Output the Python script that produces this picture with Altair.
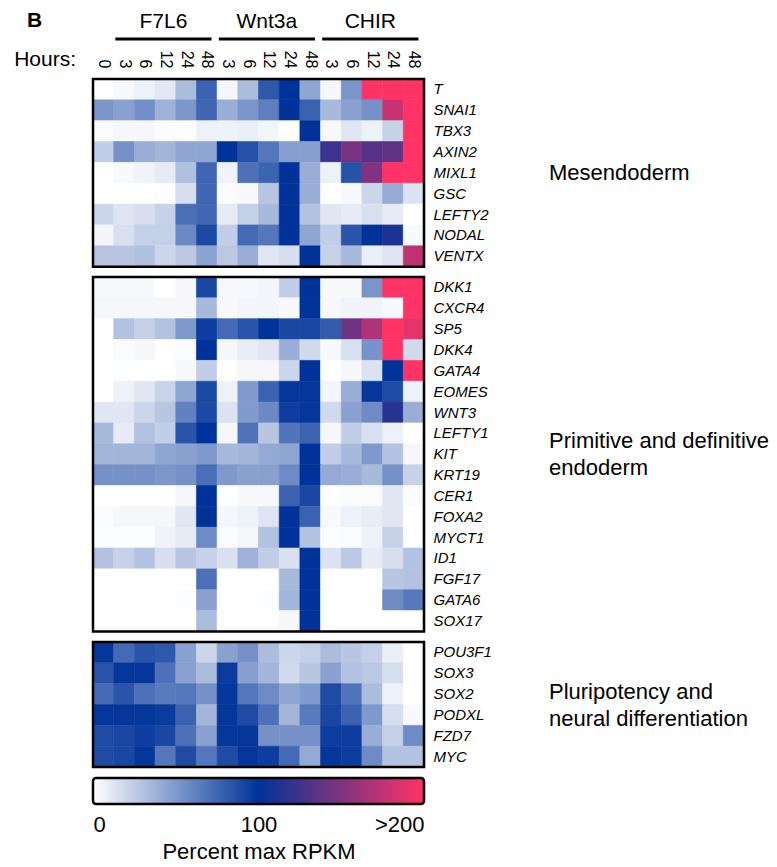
import altair as alt
import pandas as pd

# ---------------- data ----------------
conditions = ["F7L6"] * 6 + ["Wnt3a"] * 5 + ["CHIR"] * 5
hours = ["0", "3", "6", "12", "24", "48", "3", "6", "12", "24", "48", "3", "6", "12", "24", "48"]

group_names = ["F7L6", "Wnt3a", "CHIR"]
group_first_col = [1, 6, 11]
group_last_col = [6, 11, 16]

mesendoderm_genes = ["T", "SNAI1", "TBX3", "AXIN2", "MIXL1", "GSC", "LEFTY2", "NODAL", "VENTX"]
mesendoderm_values = [
    [0, 3, 7, 11, 33, 77, 4, 33, 82, 100, 44, 4, 52, 200, 200, 200],
    [52, 46, 55, 38, 51, 75, 40, 52, 63, 100, 77, 34, 46, 54, 178, 200],
    [2, 4, 4, 2, 1, 7, 7, 8, 5, 0, 100, 3, 12, 7, 22, 200],
    [24, 54, 40, 36, 44, 44, 100, 85, 67, 47, 47, 123, 148, 134, 138, 200],
    [0, 3, 6, 10, 31, 75, 6, 70, 76, 100, 40, 7, 85, 150, 200, 200],
    [0, 0, 0, 1, 16, 75, 2, 3, 28, 100, 40, 0, 3, 20, 41, 14],
    [20, 13, 16, 22, 71, 74, 10, 23, 34, 100, 30, 12, 10, 15, 10, 0],
    [5, 15, 23, 23, 58, 89, 24, 73, 67, 100, 44, 24, 84, 100, 111, 3],
    [28, 28, 31, 20, 27, 45, 27, 40, 12, 16, 100, 22, 34, 8, 13, 175],
]

endoderm_genes = ["DKK1", "CXCR4", "SP5", "DKK4", "GATA4", "EOMES", "WNT3", "LEFTY1", "KIT",
                  "KRT19", "CER1", "FOXA2", "MYCT1", "ID1", "FGF17", "GATA6", "SOX17"]
endoderm_values = [
    [3, 3, 3, 0, 4, 90, 3, 3, 5, 24, 100, 3, 3, 52, 200, 200],
    [4, 4, 4, 4, 4, 34, 3, 5, 5, 3, 100, 3, 6, 6, 3, 200],
    [0, 30, 23, 30, 50, 95, 73, 84, 100, 90, 90, 80, 143, 169, 200, 190],
    [0, 2, 4, 0, 2, 100, 4, 9, 12, 40, 18, 3, 15, 53, 200, 18],
    [0, 0, 0, 0, 3, 24, 0, 4, 4, 20, 100, 0, 4, 14, 100, 200],
    [0, 7, 12, 21, 44, 89, 7, 49, 77, 98, 98, 5, 40, 98, 88, 7],
    [12, 12, 20, 28, 62, 89, 14, 49, 58, 95, 98, 18, 46, 57, 115, 40],
    [34, 10, 30, 24, 84, 100, 4, 69, 28, 68, 76, 4, 24, 15, 7, 0],
    [36, 36, 36, 44, 46, 50, 34, 36, 42, 44, 100, 24, 34, 50, 30, 4],
    [54, 54, 54, 51, 54, 71, 50, 46, 46, 57, 100, 42, 40, 34, 54, 22],
    [0, 0, 0, 0, 4, 100, 0, 3, 3, 77, 90, 0, 2, 2, 12, 2],
    [2, 4, 4, 4, 12, 100, 4, 7, 13, 100, 77, 3, 7, 9, 12, 0],
    [1, 1, 1, 6, 10, 57, 2, 4, 30, 100, 30, 1, 2, 7, 22, 0],
    [30, 22, 30, 16, 28, 22, 15, 38, 24, 15, 100, 14, 27, 10, 16, 30],
    [0, 0, 0, 0, 0, 70, 0, 0, 0, 34, 100, 0, 0, 0, 28, 30],
    [0, 0, 0, 0, 1, 46, 0, 0, 1, 36, 100, 0, 0, 0, 57, 66],
    [0, 0, 0, 0, 0, 33, 0, 0, 0, 4, 100, 0, 0, 0, 0, 0],
]

pluripotency_genes = ["POU3F1", "SOX3", "SOX2", "PODXL", "FZD7", "MYC"]
pluripotency_values = [
    [98, 73, 84, 82, 46, 20, 46, 54, 33, 20, 23, 33, 28, 23, 8, 0],
    [84, 98, 98, 70, 46, 33, 96, 47, 36, 18, 28, 46, 30, 27, 16, 0],
    [73, 84, 70, 65, 67, 54, 98, 67, 57, 44, 49, 88, 68, 33, 7, 0],
    [98, 98, 98, 96, 77, 36, 98, 88, 70, 36, 65, 90, 77, 50, 16, 3],
    [88, 90, 95, 90, 70, 46, 98, 98, 54, 54, 54, 95, 95, 40, 23, 57],
    [88, 90, 98, 67, 88, 67, 88, 98, 95, 73, 42, 98, 95, 57, 30, 30],
]

section_labels = ["Mesendoderm",
                  "Primitive and definitive\nendoderm",
                  "Pluripotency and\nneural differentiation"]

color_stops = [0, 100, 200]
color_range = ["#ffffff", "#003399", "#ff3366"]

# ---------------- layout constants ----------------
W = 331
ROW_H = 20.85
FONT = "Liberation Sans"
N_COLS = len(hours)
SECT_LINE_H = 27

color_scale = alt.Scale(domain=color_stops, range=color_range, interpolate="rgb", clamp=True)
x_scale = alt.Scale(domain=[0, N_COLS], nice=False, zero=False)

label_array = "[" + ",".join("'%s'" % h for h in hours) + "]"
hour_axis = alt.Axis(
    orient="top", values=[i + 0.5 for i in range(N_COLS)],
    labelExpr=label_array + "[floor(datum.value)]",
    labelAngle=90, labelAlign="right", labelBaseline="middle",
    labelFontSize=16, labelPadding=11, labelColor="black",
    ticks=False, domain=False, grid=False, title=None,
)


def cells(genes, values):
    rows = []
    for g, vals in zip(genes, values):
        for i, v in enumerate(vals):
            rows.append({"gene": g, "c0": i, "c1": i + 1, "value": v,
                         "condition": conditions[i], "hour": hours[i]})
    return pd.DataFrame(rows)


def panel(genes, values, label, top=False):
    H = ROW_H * len(genes)
    df = cells(genes, values)
    xaxis = hour_axis if top else None
    heat = alt.Chart(df).mark_rect(strokeWidth=0.6).encode(
        x=alt.X("c0:Q", scale=x_scale, axis=xaxis),
        x2="c1:Q",
        y=alt.Y("gene:N", sort=genes,
                scale=alt.Scale(paddingInner=0, paddingOuter=0),
                axis=alt.Axis(orient="right", title=None, ticks=False, domain=False,
                              labelFontSize=15, labelFontStyle="italic",
                              labelPadding=9, labelColor="black")),
        color=alt.Color("value:Q", scale=color_scale, legend=None),
        stroke=alt.Stroke("value:Q", scale=color_scale, legend=None),
    )
    frame = alt.Chart(pd.DataFrame({"k": [0]})).mark_rect(
        filled=False, stroke="black", strokeWidth=2.5
    ).encode(x=alt.value(0), x2=alt.value(W), y=alt.value(0), y2=alt.value(H))
    n_lines = label.count("\n") + 1
    first_baseline = H / 2 + 7.5 - (n_lines - 1) * SECT_LINE_H / 2
    sect = alt.Chart(pd.DataFrame({"label": [label]})).mark_text(
        align="left", baseline="alphabetic", fontSize=22, lineBreak="\n",
        lineHeight=SECT_LINE_H, color="black"
    ).encode(x=alt.value(456), y=alt.value(first_baseline), text="label:N")
    layers = [heat, frame, sect]
    if top:
        gdf = pd.DataFrame({
            "group": group_names,
            "start": [f + 0.08 for f in group_first_col],
            "end": [l - 0.27 for l in group_last_col],
        })
        gdf["mid"] = (gdf["start"] + gdf["end"]) / 2
        glabels = alt.Chart(gdf).mark_text(
            fontSize=21, baseline="alphabetic", color="black"
        ).encode(x=alt.X("mid:Q", scale=x_scale, axis=hour_axis),
                 y=alt.value(-51), text="group:N")
        glines = alt.Chart(gdf).mark_rule(strokeWidth=3, color="black").encode(
            x=alt.X("start:Q", scale=x_scale, axis=hour_axis), x2="end:Q",
            y=alt.value(-40))
        hours_txt = alt.Chart(pd.DataFrame({"t": ["Hours:"]})).mark_text(
            fontSize=21, align="right", baseline="alphabetic", color="black"
        ).encode(x=alt.value(-17), y=alt.value(-13), text="t:N")
        b_txt = alt.Chart(pd.DataFrame({"t": ["B"]})).mark_text(
            fontSize=21, fontWeight="bold", align="left", baseline="alphabetic", color="black"
        ).encode(x=alt.value(-66), y=alt.value(-52), text="t:N")
        layers += [glines, glabels, hours_txt, b_txt]
    return alt.layer(*layers).properties(width=W, height=H)


p1 = panel(mesendoderm_genes, mesendoderm_values, section_labels[0], top=True)
p2 = panel(endoderm_genes, endoderm_values, section_labels[1])
p3 = panel(pluripotency_genes, pluripotency_values, section_labels[2])

# ---------------- colour bar ----------------
CB_H = 26
cb_df = pd.DataFrame({"lo": [color_stops[0]], "hi": [color_stops[-1]]})
grad = alt.Gradient(
    gradient="linear",
    stops=[alt.GradientStop(color=c, offset=s / color_stops[-1]) for s, c in zip(color_stops, color_range)],
    x1=0, x2=1, y1=0, y2=0,
)
cb = alt.Chart(cb_df).mark_rect(color=grad, cornerRadius=3).encode(
    x=alt.X("lo:Q", scale=alt.Scale(domain=[color_stops[0], color_stops[-1]], nice=False),
            axis=alt.Axis(values=color_stops,
                          labelExpr="datum.value >= 200 ? '>200' : datum.label",
                          labelFlush=True, ticks=False, domain=False, grid=False,
                          labelFontSize=22, labelPadding=10, labelColor="black",
                          title="Percent max RPKM", titleFontSize=22,
                          titleFontWeight="normal", titlePadding=6, titleColor="black")),
    x2="hi:Q",
    y=alt.value(0), y2=alt.value(CB_H),
)
cb_frame = alt.Chart(pd.DataFrame({"k": [0]})).mark_rect(
    filled=False, stroke="black", strokeWidth=2.5, cornerRadius=3
).encode(x=alt.value(0), x2=alt.value(W), y=alt.value(0), y2=alt.value(CB_H))
colorbar = alt.layer(cb, cb_frame).properties(width=W, height=CB_H)

chart = alt.vconcat(p1, p2, p3, colorbar, spacing=7).properties(
    padding={"left": 14, "top": 10, "right": 2, "bottom": 2}
).configure(font=FONT).configure_view(stroke=None)

chart.save("out.html", embed_options={"renderer": "svg", "actions": False})
